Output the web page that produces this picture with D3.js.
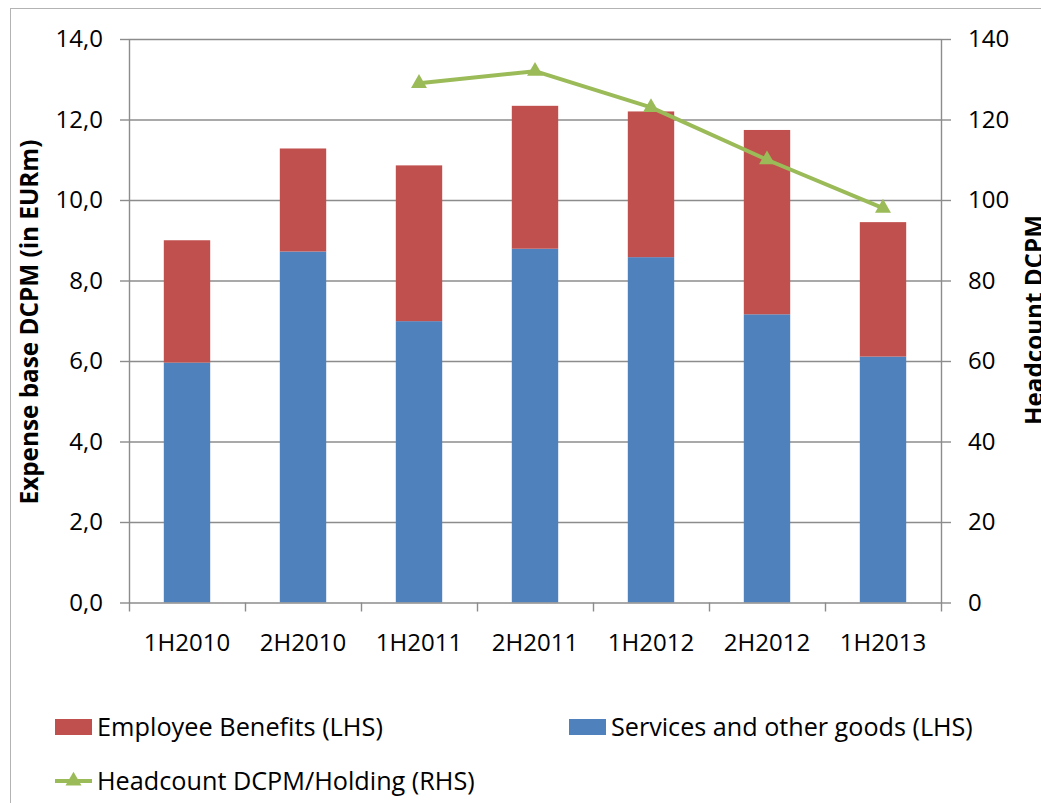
<!DOCTYPE html>
<html>
<head>
<meta charset="utf-8">
<script src="https://cdn.jsdelivr.net/npm/d3@7"></script>
<style>
  body { margin: 0; background: #fff; }
  text { font-family: "Open Sans", "Noto Sans", sans-serif; fill: #000; }
</style>
</head>
<body>
<svg id="chart" width="1041" height="803"></svg>
<script>
// Half-year periods
const periods = ["1H2010", "2H2010", "1H2011", "2H2011", "1H2012", "2H2012", "1H2013"];
// Expense base DCPM, EUR m (left axis), stacked
const servicesOtherGoods = [5.96, 8.72, 6.99, 8.79, 8.58, 7.16, 6.11];
const employeeBenefits   = [3.04, 2.56, 3.87, 3.55, 3.62, 4.58, 3.34];
// Headcount DCPM/Holding (right axis), reported from 1H2011
const headcount = [null, null, 129, 132, 123, 110, 98];
// Axis ticks
const leftTicks  = [0, 2, 4, 6, 8, 10, 12, 14];
const rightTicks = [0, 20, 40, 60, 80, 100, 120, 140];

const seriesKeys   = ["services", "employee"];
const seriesColors = { services: "#4F81BD", employee: "#C0504D" };
const lineColor    = "#9BBB59";

const svg = d3.select("#chart");

// Outer chart frame (only top/left edges fall inside the page)
svg.append("rect")
  .attr("x", 10.5).attr("y", 8.5)
  .attr("width", 1100).attr("height", 900)
  .attr("fill", "#fff").attr("stroke", "#b3b3b3").attr("stroke-width", 1);

const plot = { left: 129, right: 941, top: 39, bottom: 602.5 };

const x = d3.scaleBand()
  .domain(periods)
  .range([plot.left, plot.right])
  .paddingInner(0.6)
  .paddingOuter(0.3);

const yL = d3.scaleLinear().domain([0, 14]).range([plot.bottom, plot.top]);
const yR = d3.scaleLinear().domain([0, 140]).range([plot.bottom, plot.top]);

const commaFmt = d => d3.format(".1f")(d).replace(".", ",");

// Horizontal gridlines
const grid = svg.append("g")
  .attr("transform", `translate(${plot.left},0)`)
  .call(d3.axisLeft(yL).tickValues(leftTicks.slice(1)).tickSize(-(plot.right - plot.left)).tickFormat(""));
grid.select(".domain").remove();
grid.selectAll("line").attr("stroke", "#8c8c8c").attr("stroke-width", 1.4);

// Stacked bars
const rows = periods.map((p, i) => ({ period: p, services: servicesOtherGoods[i], employee: employeeBenefits[i] }));
const stacked = d3.stack().keys(seriesKeys)(rows);

svg.append("g").selectAll("g")
  .data(stacked)
  .join("g")
  .attr("fill", d => seriesColors[d.key])
  .selectAll("rect")
  .data(d => d)
  .join("rect")
  .attr("x", d => x(d.data.period))
  .attr("width", x.bandwidth())
  .attr("y", d => yL(d[1]))
  .attr("height", d => yL(d[0]) - yL(d[1]));

// Left axis
const axL = svg.append("g")
  .attr("transform", `translate(${plot.left},0)`)
  .call(d3.axisLeft(yL).tickValues(leftTicks).tickFormat(commaFmt).tickSize(9).tickSizeOuter(0).tickPadding(17));

// Right axis
const axR = svg.append("g")
  .attr("transform", `translate(${plot.right},0)`)
  .call(d3.axisRight(yR).tickValues(rightTicks).tickFormat(d3.format("d")).tickSize(10).tickSizeOuter(0).tickPadding(17));

// Category axis: boundary ticks plus centred labels
const xEdges = d3.scaleLinear().domain([0, periods.length]).range([plot.left, plot.right]);
const axX = svg.append("g")
  .attr("transform", `translate(0,${plot.bottom})`)
  .call(d3.axisBottom(xEdges).tickValues(d3.range(periods.length + 1)).tickFormat("").tickSize(9).tickSizeOuter(0));

const axXLabels = svg.append("g")
  .attr("transform", `translate(0,${plot.bottom})`)
  .call(d3.axisBottom(x).tickSize(0).tickPadding(31));
axXLabels.select(".domain").remove();

[axL, axR, axX].forEach(g => {
  g.select(".domain").attr("stroke", "#8c8c8c").attr("stroke-width", 1.4);
  g.selectAll(".tick line").attr("stroke", "#8c8c8c").attr("stroke-width", 1.4);
});
[axL, axR, axXLabels].forEach(g => {
  g.selectAll("text")
    .attr("font-family", '"Open Sans", sans-serif')
    .attr("font-size", 24)
    .attr("fill", "#000");
});
axXLabels.selectAll("text").attr("dy", "0.71em");

// Headcount line with triangle markers
const cx = p => x(p) + x.bandwidth() / 2;
const lineData = periods.map((p, i) => ({ period: p, value: headcount[i] }));

svg.append("path")
  .datum(lineData)
  .attr("fill", "none")
  .attr("stroke", lineColor)
  .attr("stroke-width", 4)
  .attr("stroke-linejoin", "round")
  .attr("d", d3.line().defined(d => d.value != null).x(d => cx(d.period)).y(d => yR(d.value)));

const tri = d3.symbol(d3.symbolTriangle, 110);
svg.append("g").selectAll("path")
  .data(lineData.filter(d => d.value != null))
  .join("path")
  .attr("d", tri)
  .attr("fill", lineColor)
  .attr("transform", d => `translate(${cx(d.period)},${yR(d.value)})`);

// Scale a text element's font so its rendered width fits a given length
function fitWidth(sel, width) {
  const w = sel.node().getComputedTextLength();
  sel.attr("font-size", parseFloat(sel.attr("font-size")) * width / w);
  return sel;
}

// Axis titles
fitWidth(svg.append("text")
  .attr("transform", "translate(38,322) rotate(-90)")
  .attr("text-anchor", "middle")
  .attr("font-weight", "bold")
  .attr("font-size", 22)
  .text("Expense base DCPM (in EURm)"), 365);

fitWidth(svg.append("text")
  .attr("transform", "translate(1043,320) rotate(-90)")
  .attr("text-anchor", "middle")
  .attr("font-weight", "bold")
  .attr("font-size", 22)
  .text("Headcount DCPM"), 210);

// Legend
const legend = svg.append("g");
const legendItems = [
  { type: "rect", color: seriesColors.employee, label: "Employee Benefits (LHS)", kx: 55, ky: 727, width: 286 },
  { type: "rect", color: seriesColors.services, label: "Services and other goods (LHS)", kx: 569, ky: 727, width: 362 },
  { type: "line", color: lineColor, label: "Headcount DCPM/Holding (RHS)", kx: 55, ky: 781, width: 378 }
];
legendItems.forEach(it => {
  if (it.type === "rect") {
    legend.append("rect")
      .attr("x", it.kx).attr("y", it.ky - 8)
      .attr("width", 37).attr("height", 16)
      .attr("fill", it.color);
  } else {
    legend.append("line")
      .attr("x1", it.kx).attr("x2", it.kx + 37)
      .attr("y1", it.ky).attr("y2", it.ky)
      .attr("stroke", it.color).attr("stroke-width", 4);
    legend.append("path")
      .attr("d", d3.symbol(d3.symbolTriangle, 110)())
      .attr("fill", it.color)
      .attr("transform", `translate(${it.kx + 18.5},${it.ky})`);
  }
  fitWidth(legend.append("text")
    .attr("x", it.kx + 42)
    .attr("y", it.ky)
    .attr("dy", "0.35em")
    .attr("font-size", 23)
    .text(it.label), it.width);
});
</script>
</body>
</html>
